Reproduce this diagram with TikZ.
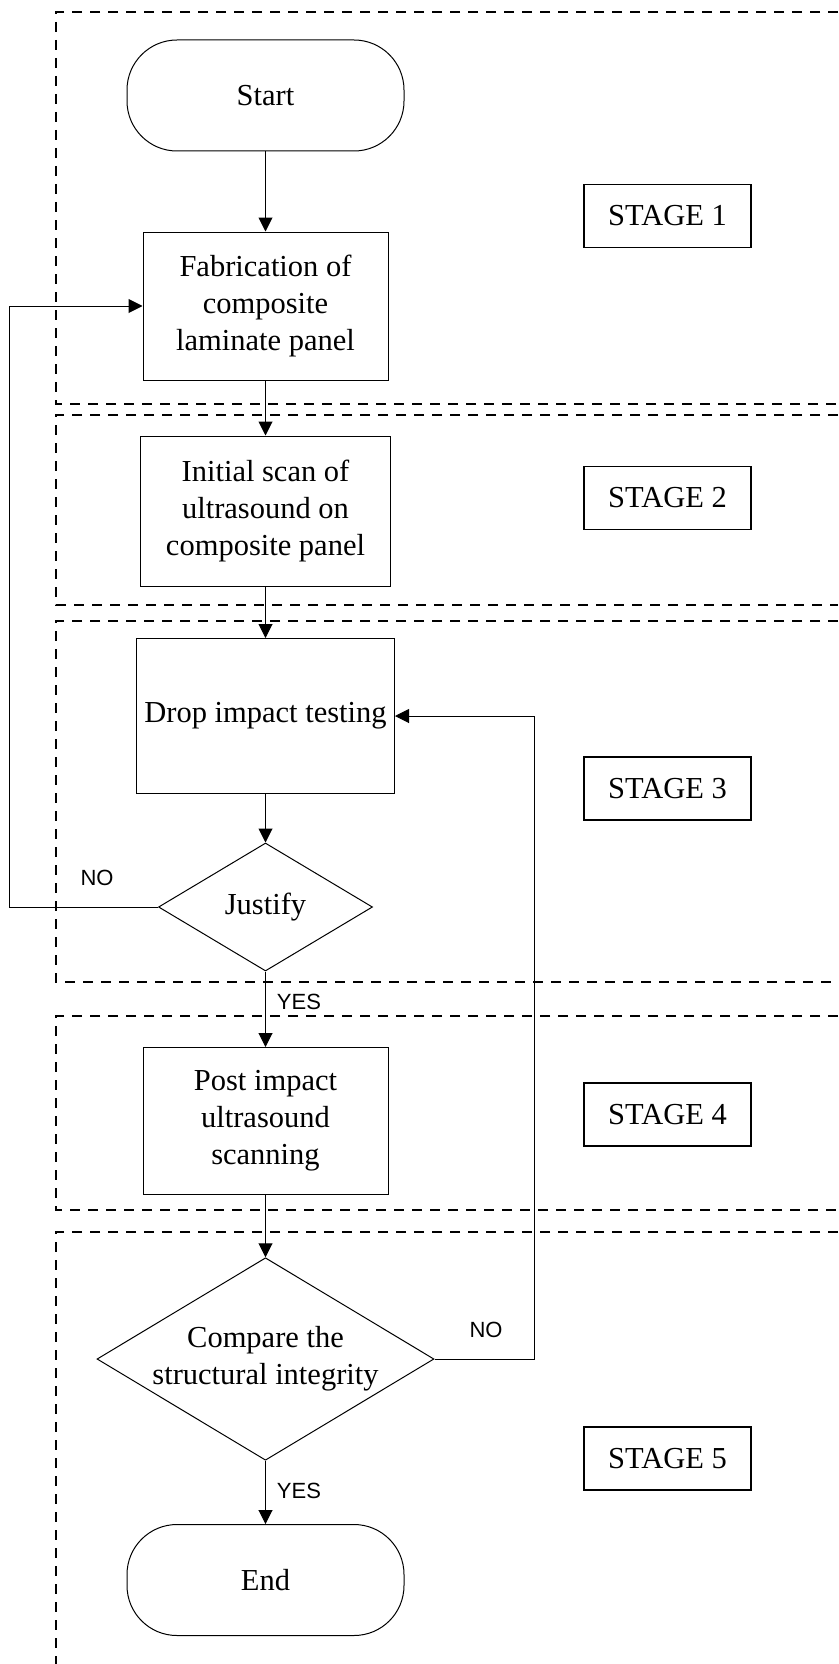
\documentclass[tikz,border=0pt]{standalone}
\usepackage{fontspec}
\setmainfont{Liberation Serif}
\newfontfamily\labfont{Liberation Sans}
\usetikzlibrary{shapes.geometric,arrows.meta}
\begin{document}
\begin{tikzpicture}[x=1pt,y=-1pt,
  every node/.style={font=\fontsize{30.5}{37}\selectfont, align=center, inner sep=0pt},
  procbox/.style={draw, line width=1pt},
  termbox/.style={draw, line width=1pt, rounded corners=50pt, minimum width=277pt, minimum height=111pt},
  stagebox/.style={draw, line width=1.2pt, minimum width=167pt, minimum height=63pt},
  decide/.style={draw, diamond, line width=1pt},
  region/.style={dash pattern=on 10pt off 8pt, line width=2pt},
  arr/.style={line width=1pt, -{Triangle[length=14pt,width=14pt]}},
  conn/.style={line width=1pt},
  yn/.style={font=\labfont\fontsize{22}{26}\selectfont}
]
\useasboundingbox (0,0) rectangle (838,1664);

% dashed stage regions
\draw[region] (838,12) -- (56,12) -- (56,404) -- (838,404);
\draw[region] (838,415) -- (56,415) -- (56,605) -- (838,605);
\draw[region] (838,621) -- (56,621) -- (56,982) -- (838,982);
\draw[region] (838,1016) -- (56,1016) -- (56,1210) -- (838,1210);
\draw[region] (838,1232) -- (56,1232) -- (56,1670);

% flow nodes
\node[termbox] (start) at (265.5,95.5) {Start};
\node[procbox, minimum width=245pt, minimum height=148pt] (fab) at (265.5,306) {Fabrication of\\composite\\laminate panel};
\node[procbox, minimum width=250pt, minimum height=150pt] (init) at (265.5,511) {Initial scan of\\ultrasound on\\composite panel};
\node[procbox, minimum width=258pt, minimum height=155pt] (drop) at (265.5,716) {Drop impact testing};
\node[decide, minimum width=214pt, minimum height=128pt] (jus) at (265.5,907) {};
\node (justext) at (jus.center) {Justify};
\node[procbox, minimum width=245pt, minimum height=147pt] (post) at (265.5,1121) {Post impact\\ultrasound\\scanning};
\node[decide, minimum width=337pt, minimum height=202.5pt] (cmp) at (265.5,1359) {};
\node (cmptext) at (cmp.center) {Compare the\\structural integrity};
\node[termbox] (end) at (265.5,1580) {End};

% stage labels
\node[stagebox] (s1) at (667.5,216) {STAGE 1};
\node[stagebox] (s2) at (667.5,498) {STAGE 2};
\node[stagebox] (s3) at (667.5,788.5) {STAGE 3};
\node[stagebox] (s4) at (667.5,1114.5) {STAGE 4};
\node[stagebox] (s5) at (667.5,1458.5) {STAGE 5};

% connectors
\draw[arr] (start) -- (fab);
\draw[arr] (fab) -- (init);
\draw[arr] (init) -- (drop);
\draw[arr] (drop) -- (jus);
\draw[arr] (jus) -- (post);
\draw[arr] (post) -- (cmp);
\draw[arr] (cmp) -- (end);

\coordinate (nol) at (9,907);
\draw[arr] (jus.west) -- (nol) |- (fab.west);
\coordinate (nor) at (534.5,1359);
\draw[arr] (cmp.east) -- (nor) |- (drop.east);

% YES / NO labels
\node[yn] (no1) at (97,878) {NO};
\node[yn] (yes1) at (299,1002) {YES};
\node[yn] (no2) at (486,1330) {NO};
\node[yn] (yes2) at (299,1491) {YES};
\end{tikzpicture}
\end{document}
